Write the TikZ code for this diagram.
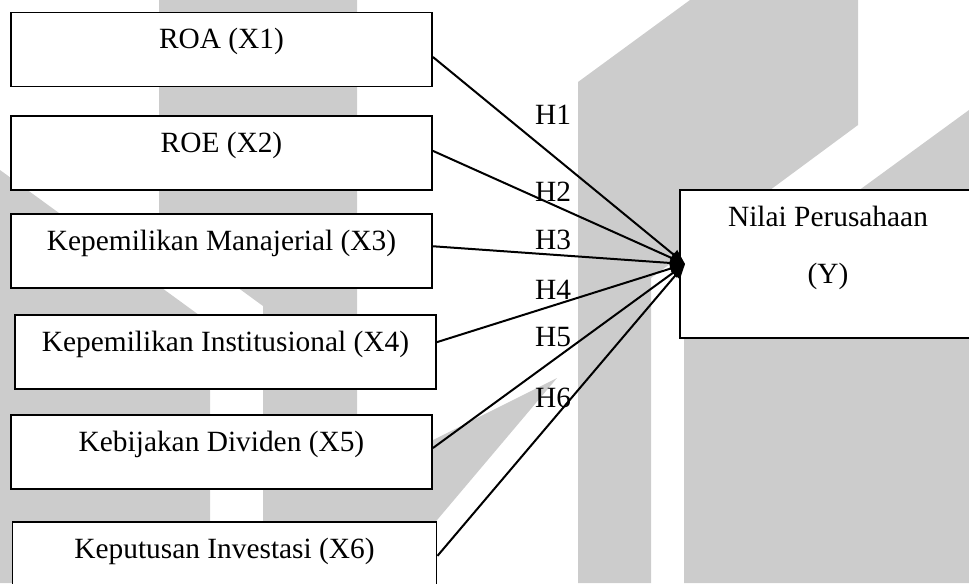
\documentclass[tikz,border=0pt]{standalone}
\usepackage{fontspec}
\setmainfont{Liberation Serif}
\usepackage{xcolor}
\definecolor{Ink}{HTML}{000000}
\definecolor{Mark}{HTML}{CCCCCC}
\usepackage{tikz}
\usetikzlibrary{arrows.meta,positioning}

\begin{document}
\begin{tikzpicture}[x=0.4pt,y=-0.4pt,
  varbox/.style={draw=Ink,fill=white,line width=0.75pt,minimum width=168.4pt,minimum height=29.6pt,inner sep=0pt,text height=8pt,text depth=8.6pt,font=\fontsize{11.75}{14}\selectfont,text=Ink},
  hyp/.style={inner sep=0pt,font=\fontsize{11.75}{14}\selectfont,text=Ink},
  arrow/.style={-{Triangle[length=6pt,width=4.5pt]},line width=0.8pt,color=Ink}
]
\useasboundingbox (0,0) rectangle (969,583);
\clip (0,0) rectangle (969,583);
\fill[Mark] (0,170) -- (210,323) -- (210,583) -- (0,583) -- cycle;
\fill[Mark] (159,0) -- (357,0) -- (357,583) -- (263,583) -- (263,306) -- (159,230) -- cycle;
\fill[Mark] (357,478) -- (557,378) -- (443,513) -- (384,583) -- (357,583) -- cycle;
\fill[Mark] (578,82) -- (690,0) -- (858,0) -- (858,125) -- (651,278) -- (651,583) -- (578,583) -- cycle;
\fill[Mark] (684,318) -- (969,110) -- (969,583) -- (684,583) -- cycle;
\node[varbox] (x1) at (221.5,49.5) {ROA (X1)};
\node[varbox,below=11.2pt of x1] (x2) {ROE (X2)};
\node[varbox,below=8.8pt of x2] (x3) {Kepemilikan Manajerial (X3)};
\node[varbox,below=10pt of x3,xshift=1.6pt] (x4) {Kepemilikan Institusional (X4)};
\node[varbox,below=9.6pt of x4,xshift=-1.6pt] (x5) {Kebijakan Dividen (X5)};
\node[varbox,below=12.4pt of x5,minimum width=169.6pt,xshift=1.2pt] (x6) {Keputusan Investasi (X6)};
\node[varbox,minimum width=118.4pt,minimum height=59.2pt,align=center,text height=30.8pt,text depth=15pt,font=\fontsize{11.75}{22.8}\selectfont] (ny) at (828,264) {Nilai Perusahaan\\(Y)};
\draw[arrow] ([yshift=-3pt]x1.east) -- ([xshift=2.4pt]ny.west);
\draw[arrow] ([yshift=1pt]x2.east) -- ([xshift=2.4pt]ny.west);
\draw[arrow] ([yshift=2pt]x3.east) -- ([xshift=2.4pt]ny.west);
\draw[arrow] ([yshift=4pt]x4.east) -- ([xshift=2.4pt]ny.west);
\draw[arrow] ([yshift=1.6pt]x5.east) -- ([xshift=2.4pt]ny.west);
\draw[arrow] ([yshift=1.2pt]x6.east) -- ([xshift=2.4pt]ny.west);
\node[hyp] (h1) at (553,115) {H1};
\node[hyp] (h2) at (553,192) {H2};
\node[hyp] (h3) at (553,240) {H3};
\node[hyp] (h4) at (553,290) {H4};
\node[hyp] (h5) at (553,337) {H5};
\node[hyp] (h6) at (553,398) {H6};
\end{tikzpicture}
\end{document}
